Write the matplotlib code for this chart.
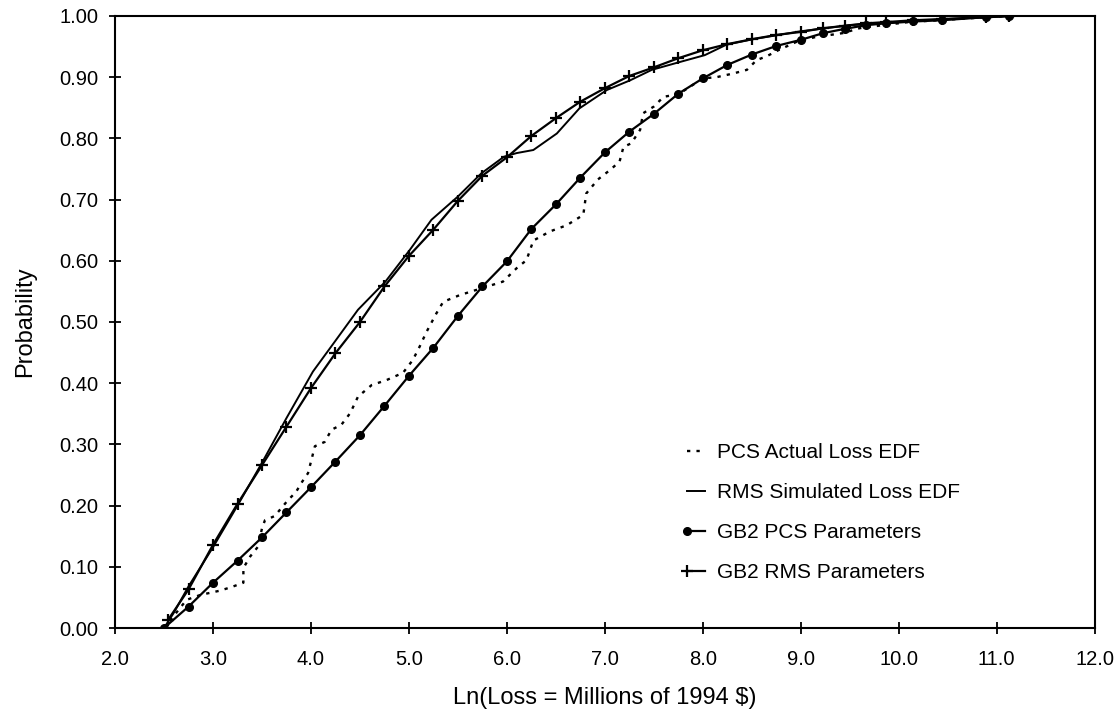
import matplotlib
matplotlib.use("Agg")
import matplotlib.pyplot as plt
from matplotlib.lines import Line2D

plt.rcParams["font.family"] = ["Liberation Sans", "DejaVu Sans"]

# GB2 fitted CDFs
gb2_x = [2.75, 3.0, 3.25, 3.5, 3.75, 4.0, 4.25, 4.5, 4.75, 5.0, 5.25, 5.5,
         5.75, 6.0, 6.25, 6.5, 6.75, 7.0, 7.25, 7.5, 7.75, 8.0, 8.25, 8.5,
         8.75, 9.0, 9.23, 9.45, 9.67, 9.87, 10.15, 10.44, 10.89, 11.13]
gb2_pcs_x = [2.5] + gb2_x
gb2_pcs_y = [0.0, 0.035, 0.074, 0.11, 0.148, 0.189, 0.23, 0.272, 0.315, 0.363,
             0.412, 0.458, 0.51, 0.558, 0.599, 0.652, 0.692, 0.736, 0.777,
             0.811, 0.840, 0.873, 0.898, 0.92, 0.937, 0.951, 0.961, 0.972,
             0.979, 0.985, 0.988, 0.991, 0.993, 0.998, 1.0]
gb2_rms_x = [2.54] + gb2_x
gb2_rms_y = [0.013, 0.063, 0.136, 0.203, 0.266, 0.329, 0.392, 0.449, 0.50,
             0.558, 0.608, 0.651, 0.698, 0.739, 0.769, 0.804, 0.833, 0.86,
             0.882, 0.902, 0.916, 0.931, 0.944, 0.954, 0.962, 0.969, 0.974,
             0.98, 0.984, 0.988, 0.99, 0.993, 0.995, 0.998, 1.0]

# RMS simulated loss EDF
rms_x = [2.5, 2.6, 2.75, 3.0, 3.25, 3.5, 3.75, 4.02, 4.23, 4.48, 4.76, 5.01,
         5.23, 5.5, 5.74, 5.97, 6.1, 6.27, 6.51, 6.74, 7.02, 7.26, 7.48, 7.77,
         8.02, 8.24, 8.51, 9.0, 9.5, 10.0, 10.5, 11.13]
rms_y = [0.0, 0.025, 0.068, 0.132, 0.2, 0.27, 0.343, 0.419, 0.465, 0.52,
         0.566, 0.618, 0.667, 0.705, 0.743, 0.77, 0.776, 0.781, 0.808, 0.849,
         0.879, 0.895, 0.912, 0.925, 0.936, 0.953, 0.962, 0.975, 0.985, 0.99,
         0.995, 1.0]

# PCS actual loss EDF
pcs_x = [2.5, 2.73, 2.87, 3.07, 3.19, 3.31, 3.31, 3.38, 3.46, 3.5, 3.53,
         3.63, 3.75, 3.85, 3.91, 3.97, 4.04, 4.14, 4.21, 4.31, 4.40, 4.48,
         4.62, 4.77, 4.94, 5.04, 5.11, 5.18, 5.28, 5.35, 5.52, 5.76, 5.96,
         6.10, 6.20, 6.27, 6.44, 6.61, 6.78, 6.81, 6.93, 7.05, 7.15, 7.19,
         7.27, 7.36, 7.39, 7.5, 7.6, 7.75, 8.0, 8.14, 8.31, 8.45, 8.55, 8.65,
         8.77, 8.96, 9.16, 9.30, 9.43, 9.6, 9.84, 10.1, 10.5, 10.9, 11.13]
pcs_y = [0.0, 0.046, 0.054, 0.061, 0.067, 0.074, 0.098, 0.117, 0.133, 0.163,
         0.176, 0.183, 0.206, 0.223, 0.239, 0.253, 0.297, 0.304, 0.324, 0.332,
         0.351, 0.378, 0.397, 0.405, 0.417, 0.438, 0.46, 0.484, 0.514, 0.533,
         0.544, 0.556, 0.566, 0.588, 0.601, 0.633, 0.648, 0.658, 0.675, 0.71,
         0.733, 0.748, 0.762, 0.786, 0.792, 0.814, 0.841, 0.852, 0.868, 0.872,
         0.898, 0.90, 0.906, 0.912, 0.928, 0.934, 0.944, 0.958, 0.966, 0.969,
         0.972, 0.98, 0.985, 0.99, 0.994, 0.998, 1.0]

labels = ["PCS Actual Loss EDF", "RMS Simulated Loss EDF",
          "GB2 PCS Parameters", "GB2 RMS Parameters"]

fig = plt.figure(figsize=(11.17, 7.13), dpi=100)
ax = fig.add_axes([0.103, 0.1192, 0.877, 0.8584])

dotted = (0, (1.4, 2.6))
ax.plot(pcs_x, pcs_y, color="black", lw=1.7, linestyle=dotted)
ax.plot(rms_x, rms_y, color="black", lw=1.4)
ax.plot(gb2_pcs_x, gb2_pcs_y, color="black", lw=1.6, marker="o", markersize=5.5)
ax.plot(gb2_rms_x, gb2_rms_y, color="black", lw=1.6, marker="+",
        markersize=9, markeredgewidth=1.6)

ax.set_xlim(2.0, 12.0)
ax.set_ylim(0.0, 1.0)
ax.set_xticks([2.0 + i for i in range(11)])
ax.set_xticklabels(["{:.1f}".format(2.0 + i) for i in range(11)])
ax.set_yticks([i / 10 for i in range(11)])
ax.set_yticklabels(["{:.2f}".format(i / 10) for i in range(11)])
ax.tick_params(direction="inout", length=9, width=1.3, labelsize=14.5)
ax.tick_params(axis="x", pad=11)
ax.tick_params(axis="y", pad=7.5)
for s in ax.spines.values():
    s.set_linewidth(1.5)

ax.set_xlabel("Ln(Loss = Millions of 1994 $)", fontsize=17, labelpad=13)
ax.set_ylabel("Probability", fontsize=17, labelpad=17)

handles = [
    Line2D([], [], color="black", lw=1.7, linestyle=dotted),
    Line2D([], [], color="black", lw=1.4),
    Line2D([], [], color="black", lw=1.6, marker="o", markersize=5.5),
    Line2D([], [], color="black", lw=1.6, marker="+", markersize=9,
           markeredgewidth=1.6),
]
leg = fig.legend(handles, labels, loc="upper left", bbox_to_anchor=(0.609, 0.378),
                 frameon=False, fontsize=15, numpoints=2, handlelength=1.5,
                 handletextpad=0.25, labelspacing=1.0, borderpad=0,
                 borderaxespad=0)
for line in leg.get_lines():
    line.set_markevery([0])

fig.savefig("out.png", dpi=100)
